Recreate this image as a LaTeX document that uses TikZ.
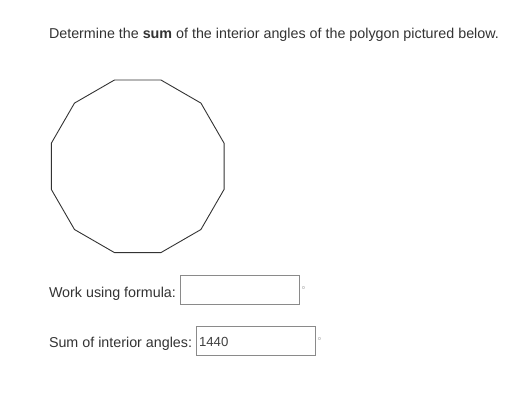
\documentclass[tikz,border=0pt]{standalone}
\usepackage{fontspec}
\setmainfont{Liberation Sans}
\usetikzlibrary{positioning}
\definecolor{txt}{HTML}{333333}
\definecolor{boxline}{HTML}{8A8A8A}

\begin{document}
\begin{tikzpicture}[x=1pt,y=-1pt,
	every node/.style={inner sep=0pt,outer sep=0pt,text=txt,font=\fontsize{14.3}{16}\selectfont},
	answer/.style={draw=boxline,line width=0.8pt,rectangle,minimum width=119pt,minimum height=29pt,anchor=north west},
	deg/.style={text=black!60,font=\fontsize{9}{10}\selectfont,anchor=west}]
	\useasboundingbox (0,0) rectangle (514,405);
	\node[anchor=base west] (question) at (49,38) {Determine the \textbf{sum} of the interior angles of the polygon pictured below.};
	% the polygon
	\draw[line width=0.9pt,color=txt] (137.7,166.3) +(75:89.4)
		\foreach \k in {1,...,11} { -- +(75+30*\k:89.4) } -- cycle;
	% work box
	\node[anchor=west] (worklabel) at (49,293.5) {Work using formula:};
	\node[answer] (workbox) at (180.7,275.7) {};
	\node[deg] (workdeg) at (301.5,290) {$^\circ$};
	% sum box
	\node[anchor=west] (sumlabel) at (49,344) {Sum of interior angles:};
	\node[answer] (sumbox) at (196,326.7) {};
	\node[anchor=west,font=\fontsize{13.2}{15}\selectfont,text=black!75] (sumval) at (199,341.5) {1440};
	\node[deg] (sumdeg) at (317.5,340.7) {$^\circ$};
\end{tikzpicture}
\end{document}
